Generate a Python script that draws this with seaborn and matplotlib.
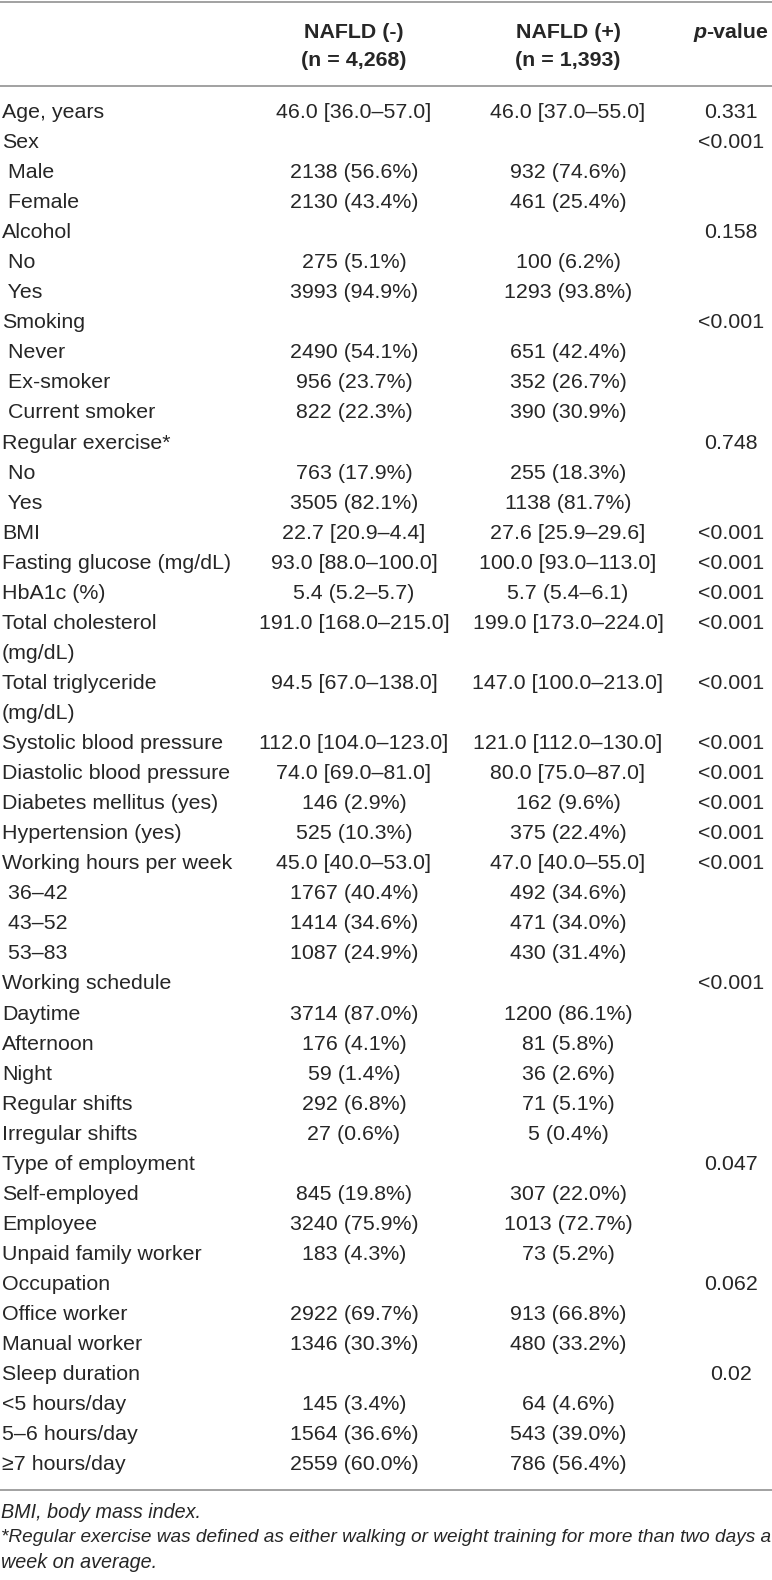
import matplotlib
matplotlib.use("Agg")
import matplotlib.pyplot as plt
import seaborn as sns

# table content
labels = [
    "Age, years", "Sex", " Male", " Female", "Alcohol", " No", " Yes",
    "Smoking", " Never", " Ex-smoker", " Current smoker", "Regular exercise*",
    " No", " Yes", "BMI", "Fasting glucose (mg/dL)", "HbA1c (%)",
    "Total cholesterol", "(mg/dL)", "Total triglyceride", "(mg/dL)",
    "Systolic blood pressure", "Diastolic blood pressure",
    "Diabetes mellitus (yes)", "Hypertension (yes)", "Working hours per week",
    " 36\u201342", " 43\u201352", " 53\u201383", "Working schedule", "Daytime",
    "Afternoon", "Night", "Regular shifts", "Irregular shifts",
    "Type of employment", "Self-employed", "Employee", "Unpaid family worker",
    "Occupation", "Office worker", "Manual worker", "Sleep duration",
    "<5 hours/day", "5\u20136 hours/day", "\u22657 hours/day",
]
nafld_neg = [
    "46.0 [36.0\u201357.0]", "", "2138 (56.6%)", "2130 (43.4%)", "",
    "275 (5.1%)", "3993 (94.9%)", "", "2490 (54.1%)", "956 (23.7%)",
    "822 (22.3%)", "", "763 (17.9%)", "3505 (82.1%)", "22.7 [20.9\u20134.4]",
    "93.0 [88.0\u2013100.0]", "5.4 (5.2\u20135.7)", "191.0 [168.0\u2013215.0]", "",
    "94.5 [67.0\u2013138.0]", "", "112.0 [104.0\u2013123.0]", "74.0 [69.0\u201381.0]",
    "146 (2.9%)", "525 (10.3%)", "45.0 [40.0\u201353.0]", "1767 (40.4%)",
    "1414 (34.6%)", "1087 (24.9%)", "", "3714 (87.0%)", "176 (4.1%)",
    "59 (1.4%)", "292 (6.8%)", "27 (0.6%)", "", "845 (19.8%)", "3240 (75.9%)",
    "183 (4.3%)", "", "2922 (69.7%)", "1346 (30.3%)", "", "145 (3.4%)",
    "1564 (36.6%)", "2559 (60.0%)",
]
nafld_pos = [
    "46.0 [37.0\u201355.0]", "", "932 (74.6%)", "461 (25.4%)", "",
    "100 (6.2%)", "1293 (93.8%)", "", "651 (42.4%)", "352 (26.7%)",
    "390 (30.9%)", "", "255 (18.3%)", "1138 (81.7%)", "27.6 [25.9\u201329.6]",
    "100.0 [93.0\u2013113.0]", "5.7 (5.4\u20136.1)", "199.0 [173.0\u2013224.0]", "",
    "147.0 [100.0\u2013213.0]", "", "121.0 [112.0\u2013130.0]", "80.0 [75.0\u201387.0]",
    "162 (9.6%)", "375 (22.4%)", "47.0 [40.0\u201355.0]", "492 (34.6%)",
    "471 (34.0%)", "430 (31.4%)", "", "1200 (86.1%)", "81 (5.8%)",
    "36 (2.6%)", "71 (5.1%)", "5 (0.4%)", "", "307 (22.0%)", "1013 (72.7%)",
    "73 (5.2%)", "", "913 (66.8%)", "480 (33.2%)", "", "64 (4.6%)",
    "543 (39.0%)", "786 (56.4%)",
]
p_values = [
    "0.331", "<0.001", "", "", "0.158", "", "", "<0.001", "", "", "",
    "0.748", "", "", "<0.001", "<0.001", "<0.001", "<0.001", "", "<0.001", "",
    "<0.001", "<0.001", "<0.001", "<0.001", "<0.001", "", "", "", "<0.001",
    "", "", "", "", "", "0.047", "", "", "", "0.062", "", "", "0.02", "", "", "",
]
headers = ["NAFLD (-)\n(n = 4,268)", "NAFLD (+)\n(n = 1,393)"]
footnotes = [
    "BMI, body mass index.",
    "*Regular exercise was defined as either walking or weight training for more than two days a",
    "week on average.",
]

sns.set_theme(style="white")
plt.rcParams["font.family"] = ["Liberation Sans", "DejaVu Sans"]

W, H = 772, 1580
fig = plt.figure(figsize=(W / 100, H / 100), dpi=100)
ax = fig.add_axes([0, 0, 1, 1])
ax.set_xlim(0, W)
ax.set_ylim(H, 0)
ax.axis("off")

txt = "#262626"
rule = "#9a9a9a"
fs = 15.4
col_x = [354, 568]
p_x = 731
y0, dy = 112.5, 30.05

# rules
for y in [1.5, 85.5, 1490]:
    ax.axhline(y, color=rule, lw=1.3)

# header
for x, h in zip(col_x, headers):
    top, bot = h.split("\n")
    ax.text(x, 32, top, ha="center", va="center", fontsize=fs, weight="bold", color=txt)
    ax.text(x, 61, bot, ha="center", va="center", fontsize=fs, weight="bold", color=txt)

fig.canvas.draw()
r = fig.canvas.get_renderer()
tp = ax.text(0, 32, "p", ha="left", va="center", fontsize=fs, weight="bold", style="italic", color=txt)
tv = ax.text(0, 32, "-value", ha="left", va="center", fontsize=fs, weight="bold", color=txt)
wp = tp.get_window_extent(r).width
wv = tv.get_window_extent(r).width
start = p_x - (wp + wv) / 2
tp.set_x(start)
tv.set_x(start + wp)

# body
for i, (lab, a, b, p) in enumerate(zip(labels, nafld_neg, nafld_pos, p_values)):
    y = y0 + i * dy
    ax.text(2, y, lab, ha="left", va="center", fontsize=fs, color=txt)
    if a:
        ax.text(col_x[0], y, a, ha="center", va="center", fontsize=fs, color=txt)
    if b:
        ax.text(col_x[1], y, b, ha="center", va="center", fontsize=fs, color=txt)
    if p:
        ax.text(p_x, y, p, ha="center", va="center", fontsize=fs, color=txt)

# footnotes
ffs = 14.2
for j, f in enumerate(footnotes):
    t = ax.text(1, 1512 + j * 25.5, f, ha="left", va="center", fontsize=ffs,
                style="italic", color=txt)
    w = t.get_window_extent(r).width
    if w > W - 3:
        t.set_fontsize(ffs * (W - 3) / w)

fig.savefig("out.png", dpi=100)
